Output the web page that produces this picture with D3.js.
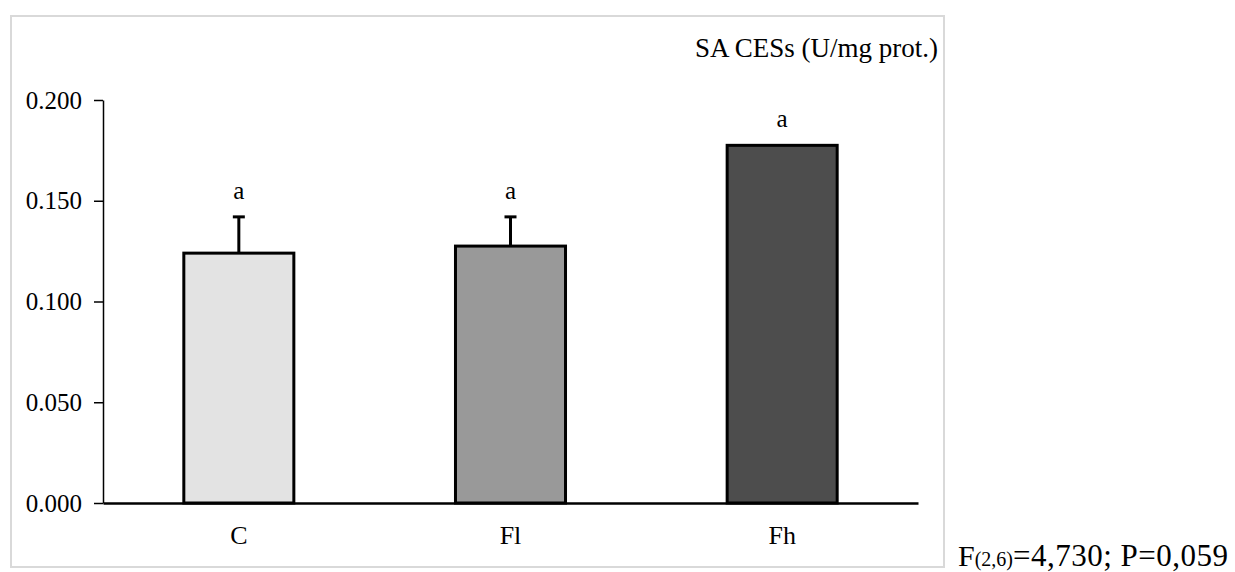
<!DOCTYPE html>
<html><head><meta charset="utf-8">
<script src="https://cdn.jsdelivr.net/npm/d3@7"></script>
<style>body{margin:0;background:#fff}svg{display:block;font-family:"Liberation Serif","Times New Roman",serif}</style>
</head><body><svg id="c" width="1235" height="572"></svg>
<script>
const categories = ["C", "Fl", "Fh"];
const values = [0.124, 0.1275, 0.1775];
const errors = [0.018, 0.0145, 0];
const letters = ["a", "a", "a"];
const fills = ["#e3e3e3", "#999999", "#4d4d4d"];
const yTicks = [0, 0.05, 0.1, 0.15, 0.2];
const title = "SA CESs (U/mg prot.)";

const svg = d3.select("#c");
svg.append("rect").attr("x", 11).attr("y", 16).attr("width", 933).attr("height", 551)
  .attr("fill", "none").attr("stroke", "#d9d9d9").attr("stroke-width", 2);

const mLeft = 103, mRight = 918, mTop = 100, mBottom = 503;
const x = d3.scaleBand().domain(categories).range([mLeft, mRight]).paddingInner(0.595).paddingOuter(0.2975);
const y = d3.scaleLinear().domain([0, 0.2]).range([mBottom, mTop]);

const yAxis = svg.append("g").attr("transform", `translate(${mLeft},0)`)
  .call(d3.axisLeft(y).tickValues(yTicks).tickFormat(d3.format(".3f")).tickSize(9).tickSizeOuter(0));
yAxis.select(".domain").attr("stroke", "#000").attr("stroke-width", 1.5);
yAxis.selectAll(".tick line").attr("stroke", "#000").attr("stroke-width", 1.5);
yAxis.selectAll(".tick text").attr("font-size", 25).attr("font-family", "Liberation Serif").attr("fill", "#000").attr("x", -21);

// bars
svg.selectAll("rect.bar").data(categories).join("rect").attr("class", "bar")
  .attr("x", d => x(d)).attr("width", x.bandwidth())
  .attr("y", (d, i) => y(values[i])).attr("height", (d, i) => y(0) - y(values[i]))
  .attr("fill", (d, i) => fills[i]).attr("stroke", "#000").attr("stroke-width", 3);

// error bars
categories.forEach((c, i) => {
  if (errors[i] <= 0) return;
  const cx = x(c) + x.bandwidth() / 2;
  svg.append("line").attr("x1", cx).attr("x2", cx).attr("y1", y(values[i])).attr("y2", y(values[i] + errors[i]))
    .attr("stroke", "#000").attr("stroke-width", 3);
  svg.append("line").attr("x1", cx - 6).attr("x2", cx + 6).attr("y1", y(values[i] + errors[i])).attr("y2", y(values[i] + errors[i]))
    .attr("stroke", "#000").attr("stroke-width", 3);
});

// letters
categories.forEach((c, i) => {
  svg.append("text").attr("x", x(c) + x.bandwidth() / 2).attr("y", y(values[i] + errors[i]) - 18)
    .attr("text-anchor", "middle").attr("font-size", 25).text(letters[i]);
});

// x axis
const xAxis = svg.append("g").attr("transform", `translate(0,${mBottom})`)
  .call(d3.axisBottom(x).tickSize(0).tickSizeOuter(0));
xAxis.select(".domain").attr("stroke", "#000").attr("stroke-width", 2.5);
xAxis.selectAll(".tick text").attr("font-size", 26).attr("font-family", "Liberation Serif").attr("fill", "#000").attr("dy", "1.46em");

svg.append("text").attr("x", 938).attr("y", 57).attr("text-anchor", "end").attr("font-size", 27).text(title);

const foot = svg.append("text").attr("x", 958).attr("y", 566).attr("font-size", 30);
foot.append("tspan").text("F");
foot.append("tspan").attr("font-size", 20).text("(2,6)");
foot.append("tspan").attr("font-size", 31).attr("letter-spacing", 0.5).text("=4,730; P=0,059");
</script></body></html>
